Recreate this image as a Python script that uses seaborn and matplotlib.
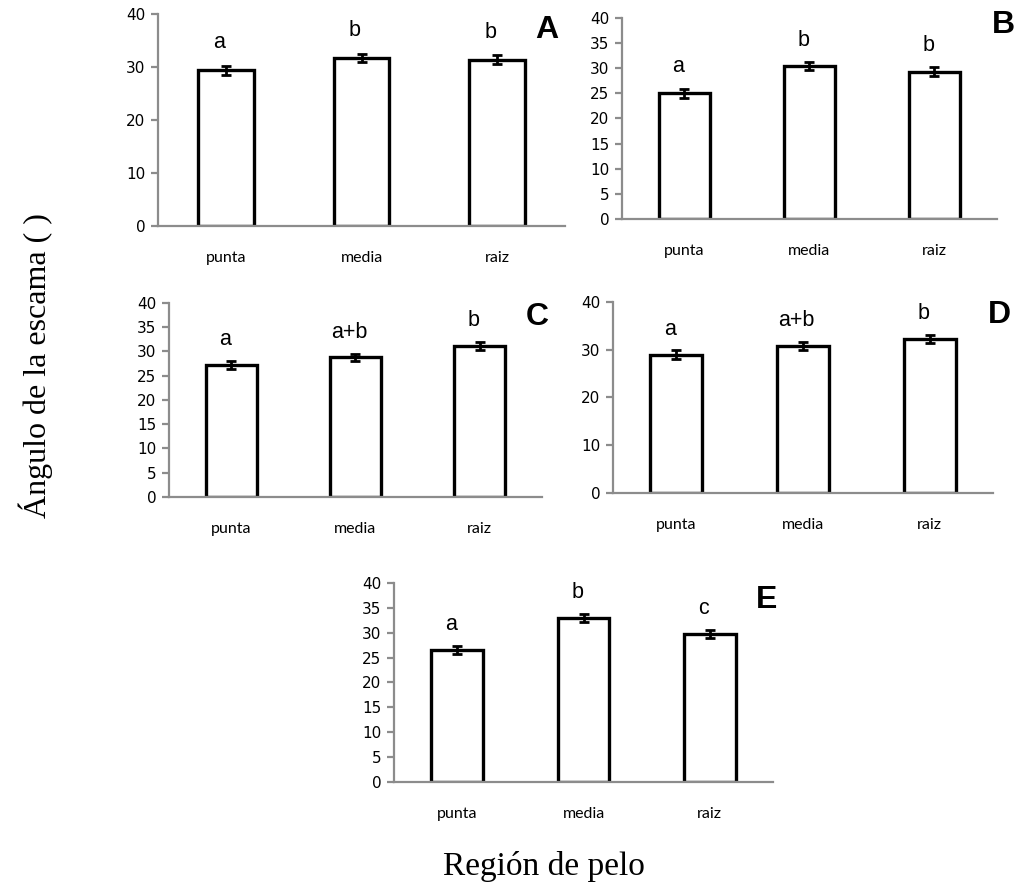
import matplotlib
matplotlib.use("Agg")
import matplotlib.pyplot as plt
import seaborn as sns
import pandas as pd
from matplotlib.ticker import FixedLocator, MultipleLocator

sns.set_style("white")
plt.rcParams['font.family'] = ['DejaVu Sans']
plt.rcParams['text.color'] = 'black'
plt.rcParams['xtick.color'] = 'black'
plt.rcParams['ytick.color'] = 'black'

regions = ["punta", "media", "raiz"]

vals_A = [29.4, 31.7, 31.4]
err_A = [0.85, 0.8, 0.8]
let_A = ["a", "b", "b"]

vals_B = [25.0, 30.4, 29.3]
err_B = [0.85, 0.8, 0.85]
let_B = ["a", "b", "b"]

vals_C = [27.2, 28.8, 31.1]
err_C = [0.85, 0.75, 0.8]
let_C = ["a", "a+b", "b"]

vals_D = [29.0, 30.8, 32.3]
err_D = [0.9, 0.85, 0.85]
let_D = ["a", "a+b", "b"]

vals_E = [26.5, 32.9, 29.7]
err_E = [0.85, 0.8, 0.85]
let_E = ["a", "b", "c"]

panels = [
    ("A", vals_A, err_A, let_A, 10, [0.1543, 0.7443, 0.3975, 0.2398], (0.956, 0.925)),
    ("B", vals_B, err_B, let_B, 5, [0.6074, 0.7523, 0.3662, 0.2274], (1.016, 0.965)),
    ("C", vals_C, err_C, let_C, 5, [0.1650, 0.4378, 0.3643, 0.2195], (0.987, 0.928)),
    ("D", vals_D, err_D, let_D, 10, [0.5986, 0.4423, 0.3711, 0.2161], (1.018, 0.932)),
    ("E", vals_E, err_E, let_E, 5, [0.3848, 0.1154, 0.3701, 0.2251], (0.984, 0.915)),
]

fig = plt.figure(figsize=(10.24, 8.84), dpi=100)
spine_col = "#8c8c8c"
sans = ["Liberation Sans", "DejaVu Sans"]

for name, vals, errs, lets, step, rect, lpos in panels:
    ax = fig.add_axes(rect)
    df = pd.DataFrame({"region": regions, "angle": vals})
    sns.barplot(data=df, x="region", y="angle", ax=ax, color="white",
                edgecolor="black", linewidth=2.4, width=0.41, errorbar=None)
    ax.errorbar(range(len(vals)), vals, yerr=errs, fmt="none", ecolor="black",
                elinewidth=2, capsize=3.8, capthick=2, zorder=5)
    for i, (v, e, t) in enumerate(zip(vals, errs, lets)):
        ax.text(i - 0.05, v + e + 4.4, t, ha="center", va="center", fontsize=15.5,
                family=sans, color="black")
    ax.set_xlim(-0.5, 2.5)
    ax.set_ylim(0, 40)
    ax.yaxis.set_major_locator(MultipleLocator(step))
    ax.set_xlabel("")
    ax.set_ylabel("")
    for s in ["top", "right"]:
        ax.spines[s].set_visible(False)
    for s in ["left", "bottom"]:
        ax.spines[s].set_color(spine_col)
        ax.spines[s].set_linewidth(1.6)
    ax.set_xticks([0, 1, 2])
    ax.set_xticklabels(regions, family=["Lato", "DejaVu Sans"])
    ax.xaxis.set_minor_locator(FixedLocator([-0.5, 0.5, 1.5, 2.5]))
    ax.tick_params(axis="x", which="major", length=0, pad=18, labelsize=11.5)
    ax.tick_params(axis="x", which="minor", length=6, width=1.6, color=spine_col, direction="out")
    ax.tick_params(axis="y", which="major", length=5, width=1.6, color=spine_col,
                   direction="out", labelsize=11, left=True, pad=4, labelcolor="black")
    ax.spines["bottom"].set_bounds(-0.5, 2.5)
    ax.text(lpos[0], lpos[1], name, transform=ax.transAxes, ha="center", va="center",
            fontsize=23, fontweight="bold", family=sans, color="black")
    ax.set_facecolor("white")

serif = ["Liberation Serif", "DejaVu Serif"]
fig.text(0.035, 0.587, "Ángulo de la escama ( )", rotation=90, ha="center", va="center",
         fontsize=23, family=serif, color="black")
fig.text(0.531, 0.0102, "Región de pelo", ha="center", va="baseline",
         fontsize=24, family=serif, color="black")

fig.savefig("out.png", dpi=100, facecolor="white")
